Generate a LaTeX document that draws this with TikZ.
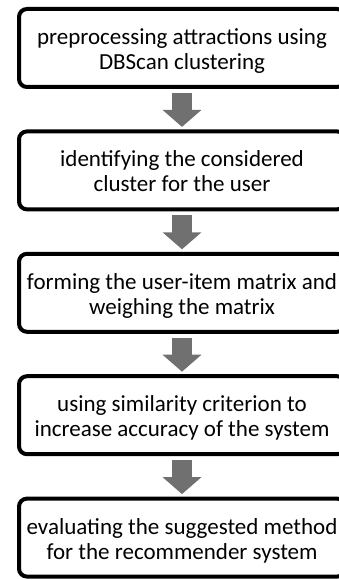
\documentclass[tikz,border=0pt]{standalone}
\usepackage{fontspec}
\setmainfont{Carlito}
\usetikzlibrary{arrows.meta}
\definecolor{arrgray}{RGB}{112,112,112}
\begin{document}
\begin{tikzpicture}[x=1pt,y=-1pt,
  stepbox/.style={draw=black, line width=4pt, rounded corners=8pt,
    minimum width=326pt, minimum height=78pt, align=center,
    font=\fontsize{23}{25}\selectfont, text=black, inner sep=0pt,
    text height=49pt, text depth=6pt},
  blockarrow/.style={draw=arrgray, line width=20pt,
    -{Triangle[width=38pt,length=17pt]}}]
\useasboundingbox (0,0) rectangle (339,580);
\clip (0,0) rectangle (339,580);
\node[stepbox] (b1) at (182,48) {preprocessing attractions using\\DBScan clustering};
\node[stepbox] (b2) at (182,170.4) {identifying the considered\\cluster for the user};
\node[stepbox] (b3) at (182,292.8) {forming the user-item matrix and\\weighing the matrix};
\node[stepbox] (b4) at (182,415.2) {using similarity criterion to\\increase accuracy of the system};
\node[stepbox] (b5) at (182,537.6) {evaluating the suggested method\\for the recommender system};
\draw[blockarrow] ([yshift=-4pt]b1.south) -- ([yshift=2.5pt]b2.north);
\draw[blockarrow] ([yshift=-4pt]b2.south) -- ([yshift=2.5pt]b3.north);
\draw[blockarrow] ([yshift=-4pt]b3.south) -- ([yshift=2.5pt]b4.north);
\draw[blockarrow] ([yshift=-4pt]b4.south) -- ([yshift=2.5pt]b5.north);
\end{tikzpicture}
\end{document}
